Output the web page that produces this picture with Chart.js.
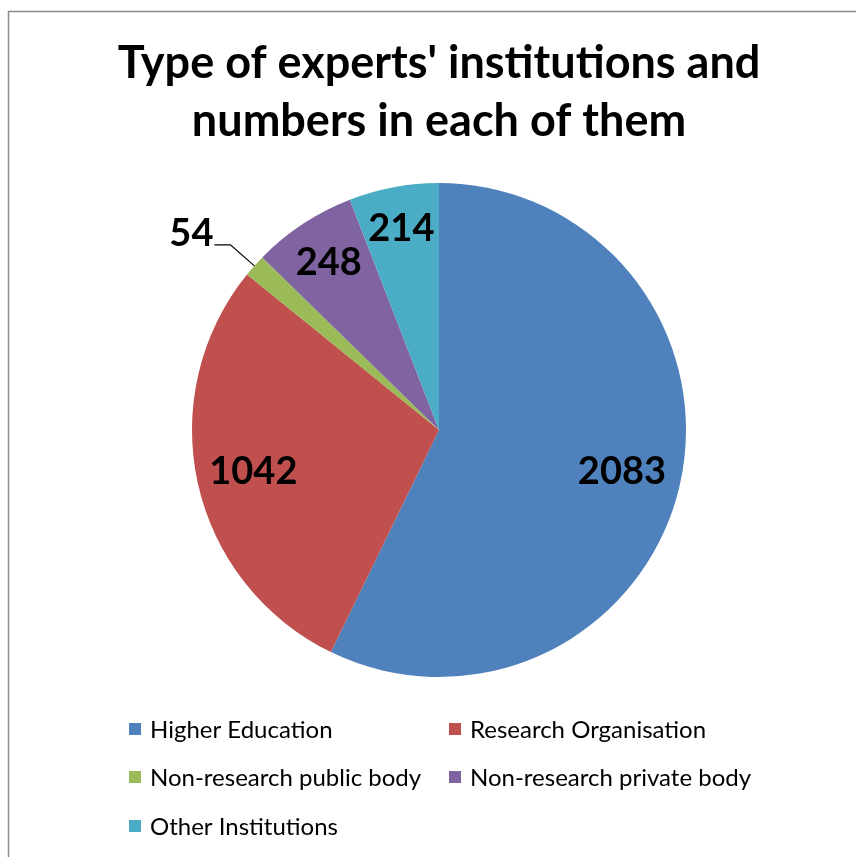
<!DOCTYPE html>
<html>
<head>
<meta charset="utf-8">
<script src="https://cdn.jsdelivr.net/npm/chart.js@4"></script>
<style>
html,body{margin:0;padding:0;background:#fff;}
#wrap{width:856px;height:857px;position:relative;}
</style>
</head>
<body>
<div id="wrap"><canvas id="c" width="856" height="857"></canvas></div>
<script>
const titleLines = ["Type of experts' institutions and", "numbers in each of them"];
const categories = ["Higher Education", "Research Organisation", "Non-research public body", "Non-research private body", "Other Institutions"];
const values = [2083, 1042, 54, 248, 214];
const colors = ["#4F81BD", "#C0504D", "#9BBB59", "#8064A2", "#4BACC6"];

const FONT = "Lato, 'Open Sans', sans-serif";

const framePlugin = {
  id: 'frame',
  beforeDraw(chart) {
    const ctx = chart.ctx;
    ctx.save();
    ctx.fillStyle = '#fff';
    ctx.fillRect(0, 0, chart.width, chart.height);
    ctx.strokeStyle = '#8c8c8c';
    ctx.lineWidth = 1.5;
    ctx.beginPath();
    ctx.moveTo(8.5, chart.height);
    ctx.lineTo(8.5, 11.5);
    ctx.lineTo(chart.width, 11.5);
    ctx.stroke();
    ctx.restore();
  }
};

const titlePlugin = {
  id: 'customTitle',
  afterDraw(chart) {
    const ctx = chart.ctx;
    ctx.save();
    ctx.fillStyle = '#000';
    ctx.font = "bold 45px " + FONT;
    ctx.textAlign = 'center';
    ctx.textBaseline = 'alphabetic';
    const ys = [78, 136];
    titleLines.forEach((t, i) => ctx.fillText(t, 439, ys[i]));
    ctx.restore();
  }
};

const labelPlugin = {
  id: 'sliceLabels',
  afterDatasetsDraw(chart) {
    const ctx = chart.ctx;
    const meta = chart.getDatasetMeta(0);
    const ds = chart.data.datasets[0];
    const radial = [0.76, 0.77, 0, 0.81, 0.83];
    ctx.save();
    ctx.fillStyle = '#000';
    ctx.font = "bold 38px " + FONT;
    ctx.textAlign = 'center';
    ctx.textBaseline = 'middle';
    meta.data.forEach((arc, i) => {
      const p = arc.getProps(['x', 'y', 'startAngle', 'endAngle', 'outerRadius'], true);
      const mid = (p.startAngle + p.endAngle) / 2;
      if (i === 2) {
        const ex = p.x + Math.cos(mid) * p.outerRadius;
        const ey = p.y + Math.sin(mid) * p.outerRadius;
        ctx.strokeStyle = '#000';
        ctx.lineWidth = 1.2;
        ctx.beginPath();
        ctx.moveTo(ex, ey);
        ctx.lineTo(ex - 24, ey - 21);
        ctx.lineTo(ex - 40, ey - 21);
        ctx.stroke();
        ctx.textAlign = 'right';
        ctx.fillText(String(ds.data[i]), ex - 41, ey - 32);
        ctx.textAlign = 'center';
      } else {
        const r = p.outerRadius * radial[i];
        ctx.fillText(String(ds.data[i]), p.x + Math.cos(mid) * r, p.y + Math.sin(mid) * r);
      }
    });
    ctx.restore();
  }
};

const legendPlugin = {
  id: 'gridLegend',
  afterDraw(chart) {
    const ctx = chart.ctx;
    const cols = [129, 449];
    const rows = [729, 777, 826];
    ctx.save();
    ctx.font = "24px " + FONT;
    ctx.textBaseline = 'middle';
    ctx.textAlign = 'left';
    chart.data.labels.forEach((lab, i) => {
      const x = cols[i % 2];
      const y = rows[Math.floor(i / 2)];
      ctx.fillStyle = chart.data.datasets[0].backgroundColor[i];
      ctx.fillRect(x, y - 6, 12, 12);
      ctx.fillStyle = '#000';
      ctx.fillText(lab, x + 21, y + 1);
    });
    ctx.restore();
  }
};

new Chart(document.getElementById('c'), {
  type: 'pie',
  data: {
    labels: categories,
    datasets: [{
      data: values,
      backgroundColor: colors,
      borderWidth: 0
    }]
  },
  options: {
    responsive: false,
    animation: false,
    layout: { padding: { top: 183, bottom: 180, left: 192, right: 170 } },
    plugins: {
      legend: { display: false },
      title: { display: false },
      tooltip: { enabled: false }
    }
  },
  plugins: [framePlugin, titlePlugin, labelPlugin, legendPlugin]
});
</script>
</body>
</html>
